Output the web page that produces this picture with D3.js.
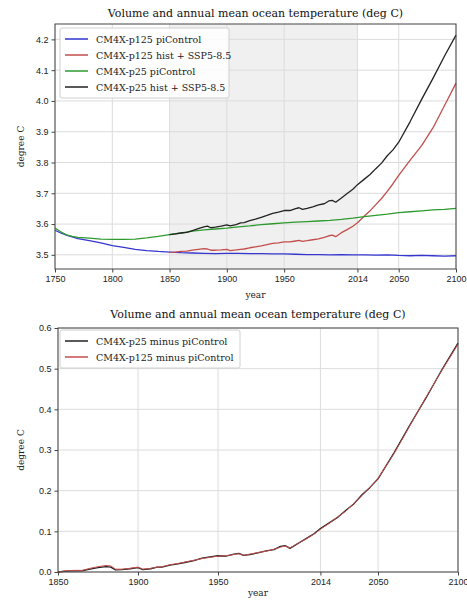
<!DOCTYPE html>
<html>
<head>
<meta charset="utf-8">
<script src="https://cdn.jsdelivr.net/npm/d3@7.9.0/dist/d3.min.js"></script>
<style>
  body { margin: 0; background: #fff; }
  svg { display: block; font-family: 'DejaVu Serif', serif; }
  .tick text { font-size: 9px; fill: #222; }
  .tick line { stroke: #444; }
</style>
</head>
<body>
<svg id="chart" width="467" height="605"></svg>
<script>
// ---- data ----
const ctrlYears = [1750,1755,1760,1765,1770,1780,1790,1800,1810,1820,1830,1840,1850,1860,1870,1880,1890,1900,1910,1920,1930,1940,1950,1960,1970,1980,1990,2000,2010,2020,2030,2040,2050,2060,2070,2080,2090,2100];
const p125Control = [3.580,3.571,3.564,3.558,3.553,3.546,3.539,3.530,3.524,3.518,3.514,3.511,3.509,3.507,3.506,3.505,3.504,3.505,3.505,3.504,3.504,3.503,3.503,3.502,3.501,3.501,3.500,3.501,3.500,3.500,3.499,3.500,3.498,3.497,3.498,3.497,3.496,3.497];
const p25Control = [3.587,3.575,3.565,3.560,3.557,3.554,3.551,3.550,3.550,3.551,3.555,3.560,3.566,3.571,3.577,3.581,3.584,3.587,3.591,3.594,3.598,3.601,3.604,3.606,3.608,3.610,3.612,3.615,3.619,3.624,3.628,3.632,3.637,3.640,3.643,3.646,3.648,3.651];

const histYears = [1850,1855,1860,1865,1870,1875,1880,1883,1886,1890,1895,1900,1903,1908,1912,1915,1920,1925,1930,1935,1940,1945,1950,1955,1960,1963,1966,1970,1975,1980,1985,1989,1992,1995,2000,2005,2010,2014,2020,2025,2030,2035,2040,2045,2050,2060,2070,2080,2090,2100];
const p125Hist = [3.508,3.509,3.511,3.512,3.515,3.518,3.520,3.519,3.515,3.515,3.516,3.518,3.514,3.516,3.518,3.519,3.523,3.526,3.529,3.533,3.537,3.539,3.542,3.542,3.545,3.547,3.544,3.546,3.549,3.552,3.557,3.562,3.564,3.559,3.572,3.582,3.593,3.604,3.626,3.643,3.663,3.683,3.706,3.731,3.758,3.808,3.855,3.913,3.985,4.058];
const p25Hist = [3.566,3.568,3.571,3.573,3.579,3.585,3.591,3.593,3.588,3.590,3.593,3.597,3.594,3.598,3.604,3.605,3.611,3.616,3.622,3.628,3.635,3.639,3.644,3.644,3.650,3.653,3.648,3.651,3.656,3.662,3.666,3.675,3.677,3.671,3.685,3.699,3.713,3.728,3.746,3.761,3.780,3.798,3.822,3.841,3.866,3.933,4.005,4.074,4.146,4.214];

const p25Minus = [0.000,0.002,0.003,0.003,0.007,0.011,0.013,0.012,0.005,0.006,0.008,0.011,0.006,0.008,0.012,0.012,0.017,0.020,0.024,0.028,0.034,0.037,0.040,0.039,0.044,0.046,0.041,0.043,0.047,0.052,0.055,0.063,0.065,0.058,0.070,0.082,0.094,0.107,0.122,0.135,0.152,0.168,0.190,0.208,0.229,0.293,0.362,0.428,0.498,0.563];
const p125Minus = [0.000,0.003,0.004,0.004,0.009,0.013,0.016,0.015,0.007,0.007,0.009,0.012,0.007,0.009,0.012,0.013,0.018,0.021,0.025,0.029,0.033,0.036,0.039,0.040,0.043,0.045,0.041,0.044,0.048,0.051,0.056,0.061,0.064,0.059,0.071,0.081,0.093,0.105,0.121,0.136,0.150,0.169,0.188,0.209,0.230,0.291,0.360,0.430,0.496,0.560];

const topXTicks = [1750, 1800, 1850, 1900, 1950, 2014, 2050, 2100];
const topYTicks = [3.5, 3.6, 3.7, 3.8, 3.9, 4.0, 4.1, 4.2];
const botXTicks = [1850, 1900, 1950, 2014, 2050, 2100];
const botYTicks = [0.0, 0.1, 0.2, 0.3, 0.4, 0.5, 0.6];
const histPeriod = [1850, 2014];

const TITLE = 'Volume and annual mean ocean temperature (deg C)';
const BLUE = '#3535d0', RED = '#c24e4c', GREEN = '#2e9a2e', BLACK = '#222';

const svg = d3.select('#chart');

function panel({ left, right, top, bottom, xDomain, yDomain, xTicks, yTicks, yFmt }) {
  const x = d3.scaleLinear().domain(xDomain).range([left, right]);
  const y = d3.scaleLinear().domain(yDomain).range([bottom, top]);
  const g = svg.append('g');

  // grid
  g.append('g').selectAll('line').data(xTicks).join('line')
    .attr('x1', d => x(d)).attr('x2', d => x(d))
    .attr('y1', top).attr('y2', bottom)
    .attr('stroke', '#dcdcdc').attr('stroke-width', 1);
  g.append('g').selectAll('line').data(yTicks).join('line')
    .attr('x1', left).attr('x2', right)
    .attr('y1', d => y(d)).attr('y2', d => y(d))
    .attr('stroke', '#dcdcdc').attr('stroke-width', 1);

  const xAxis = g.append('g').attr('transform', `translate(0,${bottom})`)
    .call(d3.axisBottom(x).tickValues(xTicks).tickFormat(d3.format('d')).tickSize(3.5).tickPadding(3));
  const yAxis = g.append('g').attr('transform', `translate(${left},0)`)
    .call(d3.axisLeft(y).tickValues(yTicks).tickFormat(d3.format(yFmt)).tickSize(3.5).tickPadding(3));
  [xAxis, yAxis].forEach(a => a.select('.domain').remove());

  return { g, x, y, left, right, top, bottom };
}

function frame(p) {
  p.g.append('rect')
    .attr('x', p.left).attr('y', p.top)
    .attr('width', p.right - p.left).attr('height', p.bottom - p.top)
    .attr('fill', 'none').attr('stroke', '#444').attr('stroke-width', 1);
}

function drawLine(p, xs, ys, color, width = 1.3) {
  const line = d3.line().x((d, i) => p.x(xs[i])).y(d => p.y(d));
  p.g.append('path').datum(ys)
    .attr('d', line).attr('fill', 'none')
    .attr('stroke', color).attr('stroke-width', width)
    .attr('stroke-linejoin', 'round');
}

function labels(p, titleY, xlabY) {
  const cx = (p.left + p.right) / 2;
  svg.append('text').attr('x', cx).attr('y', titleY)
    .attr('text-anchor', 'middle').attr('font-size', 11).attr('fill', '#111')
    .text(TITLE);
  svg.append('text').attr('x', cx).attr('y', xlabY)
    .attr('text-anchor', 'middle').attr('font-size', 9).attr('fill', '#222')
    .text('year');
  const cy = (p.top + p.bottom) / 2;
  svg.append('text')
    .attr('transform', `translate(24,${cy}) rotate(-90)`)
    .attr('text-anchor', 'middle').attr('font-size', 9).attr('fill', '#222')
    .text('degree C');
}

function legend(p, x0, y0, w, items) {
  const rowH = 16;
  const lg = p.g.append('g');
  lg.append('rect')
    .attr('x', x0).attr('y', y0).attr('width', w).attr('height', items.length * rowH + 6)
    .attr('rx', 2).attr('fill', '#fff').attr('fill-opacity', 0.85)
    .attr('stroke', '#d0d0d0');
  items.forEach(([label, color], i) => {
    const cy = y0 + 11 + i * rowH;
    lg.append('line').attr('x1', x0 + 5).attr('x2', x0 + 28)
      .attr('y1', cy).attr('y2', cy).attr('stroke', color).attr('stroke-width', 1.5);
    lg.append('text').attr('x', x0 + 36).attr('y', cy + 3.5)
      .attr('font-size', 9.5).attr('fill', '#222').text(label);
  });
}

// ---- top panel ----
const topPanel = panel({
  left: 55, right: 456, top: 24, bottom: 269,
  xDomain: [1750, 2100], yDomain: [3.454, 4.25],
  xTicks: topXTicks, yTicks: topYTicks, yFmt: '.1f'
});
topPanel.g.insert('rect', ':first-child')
  .attr('x', topPanel.x(histPeriod[0])).attr('y', topPanel.top)
  .attr('width', topPanel.x(histPeriod[1]) - topPanel.x(histPeriod[0]))
  .attr('height', topPanel.bottom - topPanel.top)
  .attr('fill', '#f0f0f0');
drawLine(topPanel, ctrlYears, p125Control, BLUE);
drawLine(topPanel, histYears, p125Hist, RED);
drawLine(topPanel, ctrlYears, p25Control, GREEN);
drawLine(topPanel, histYears, p25Hist, BLACK);
frame(topPanel);
legend(topPanel, 60, 28, 169, [
  ['CM4X-p125 piControl', BLUE],
  ['CM4X-p125 hist + SSP5-8.5', RED],
  ['CM4X-p25 piControl', GREEN],
  ['CM4X-p25 hist + SSP5-8.5', BLACK]
]);
labels(topPanel, 17, 298);

// ---- bottom panel ----
const botPanel = panel({
  left: 58, right: 458, top: 328, bottom: 572,
  xDomain: [1850, 2100], yDomain: [0, 0.6],
  xTicks: botXTicks, yTicks: botYTicks, yFmt: '.1f'
});
drawLine(botPanel, histYears, p25Minus, BLACK);
drawLine(botPanel, histYears, p125Minus, RED, 1);
frame(botPanel);
legend(botPanel, 60, 330, 180, [
  ['CM4X-p25 minus piControl', BLACK],
  ['CM4X-p125 minus piControl', RED]
]);
labels(botPanel, 318, 596);
</script>
</body>
</html>
